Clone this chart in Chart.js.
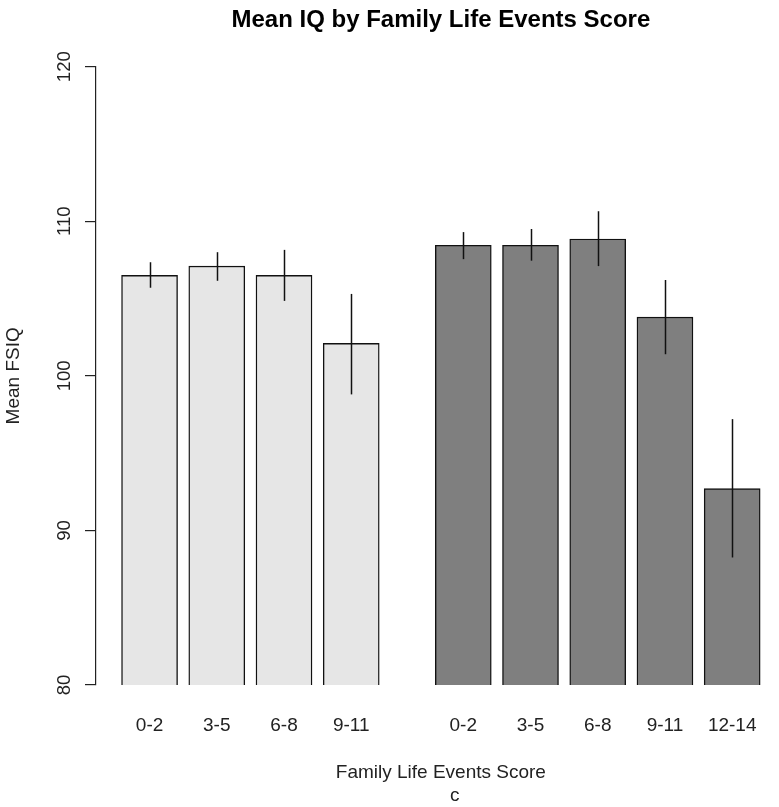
<!DOCTYPE html>
<html><head><meta charset="utf-8">
<script src="https://cdn.jsdelivr.net/npm/chart.js@4.4.1/dist/chart.umd.min.js"></script>
<style>html,body{margin:0;padding:0;background:#fff;overflow:hidden;width:779px;height:807px}canvas{display:block}</style>
</head><body>
<canvas id="c" width="786" height="807"></canvas>
<script>
const chartTitle = 'Mean IQ by Family Life Events Score';
const xTitle = 'Family Life Events Score';
const yTitle = 'Mean FSIQ';
const subTitle = 'c';
const lightCategories = ['0-2', '3-5', '6-8', '9-11'];
const darkCategories = ['0-2', '3-5', '6-8', '9-11', '12-14'];
const lightMeans = [106.5, 107.1, 106.5, 102.1];
const lightLower = [105.7, 106.15, 104.85, 98.8];
const lightUpper = [107.35, 108.0, 108.15, 105.3];
const darkMeans = [108.45, 108.45, 108.85, 103.8, 92.7];
const darkLower = [107.55, 107.45, 107.1, 101.4, 88.25];
const darkUpper = [109.3, 109.5, 110.65, 106.2, 97.2];
const yTicks = [80, 90, 100, 110, 120];

// barplot-like layout in axis units: bar width 1, space 0.2 between bars, 1 between groups
const BAR_W = 1, BAR_SPACE = 0.2, GROUP_SPACE = 1;
const groups = [lightMeans, darkMeans];
const centers = [];
let pos = 0;
groups.forEach((g, gi) => {
  const c = [];
  g.forEach((_, i) => {
    pos += (gi > 0 && i === 0) ? GROUP_SPACE : BAR_SPACE;
    c.push(pos + BAR_W / 2);
    pos += BAR_W;
  });
  centers.push(c);
});
const xLo = BAR_SPACE, xHi = pos, ext = 0.04 * (xHi - xLo);
const xMin = xLo - ext, xMax = xHi + ext;
const allCenters = centers[0].concat(centers[1]);
const allLabels = lightCategories.concat(darkCategories);

const FONT = "'Liberation Sans', Arial, sans-serif";
Chart.defaults.font.family = FONT;

const errorBars = {
  id: 'errorBars',
  afterDatasetsDraw(chart) {
    const ctx = chart.ctx, ys = chart.scales.y;
    ctx.save();
    ctx.strokeStyle = '#111';
    ctx.lineWidth = 1.5;
    chart.data.datasets.forEach((ds, di) => {
      const meta = chart.getDatasetMeta(di);
      meta.data.forEach((el, i) => {
        const x = Math.round(el.x) + 0.5;
        ctx.beginPath();
        ctx.moveTo(x, ys.getPixelForValue(ds.errLow[i]));
        ctx.lineTo(x, ys.getPixelForValue(ds.errHigh[i]));
        ctx.stroke();
      });
    });
    ctx.restore();
  }
};

const extraText = {
  id: 'extraText',
  afterDraw(chart) {
    const ctx = chart.ctx, ys = chart.scales.y, xs = chart.scales.x;
    ctx.save();
    ctx.fillStyle = '#222';
    ctx.font = '18.5px ' + FONT;
    ctx.textAlign = 'center';
    ctx.textBaseline = 'alphabetic';
    ys.ticks.forEach(t => {
      const py = ys.getPixelForValue(t.value);
      ctx.save();
      ctx.translate(ys.right - 26, py);
      ctx.rotate(-Math.PI / 2);
      ctx.fillText(String(t.value), 0, 0);
      ctx.restore();
    });
    // sub-caption under the x-axis title
    ctx.font = '19px ' + FONT;
    ctx.textBaseline = 'middle';
    ctx.fillText(subTitle, (xs.left + xs.right) / 2 + 14, chart.height - 11);
    ctx.restore();
  }
};

new Chart(document.getElementById('c'), {
  type: 'bar',
  data: {
    datasets: [
      {
        data: lightMeans.map((v, i) => ({ x: centers[0][i], y: v })),
        errLow: lightLower, errHigh: lightUpper,
        backgroundColor: '#e6e6e6', borderColor: '#111', borderWidth: 1.4,
        borderSkipped: false, barThickness: 56, grouped: false
      },
      {
        data: darkMeans.map((v, i) => ({ x: centers[1][i], y: v })),
        errLow: darkLower, errHigh: darkUpper,
        backgroundColor: '#7f7f7f', borderColor: '#111', borderWidth: 1.4,
        borderSkipped: false, barThickness: 56, grouped: false
      }
    ]
  },
  options: {
    responsive: false,
    animation: false,
    devicePixelRatio: 1,
    layout: { padding: { left: 0, right: 0, top: 0, bottom: 22.8 } },
    plugins: {
      legend: { display: false },
      tooltip: { enabled: false },
      title: {
        display: true, text: chartTitle, fullSize: false, color: '#000',
        font: { size: 24, weight: 'bold', lineHeight: 1.2 },
        padding: { top: 5.6, bottom: 32.3 }
      }
    },
    scales: {
      x: {
        type: 'linear', min: xMin, max: xMax, offset: false,
        afterBuildTicks: s => { s.ticks = allCenters.map(v => ({ value: v })); },
        afterFit: s => { s.height = 99.2; },
        ticks: {
          callback: (v, i) => allLabels[i], autoSkip: false, maxRotation: 0, minRotation: 0,
          padding: 29.5, color: '#222', font: { size: 19 }
        },
        grid: { display: false, drawTicks: false },
        border: { display: false },
        title: { display: true, text: xTitle, color: '#222', font: { size: 19, lineHeight: 1.2 }, padding: { top: 0, bottom: 0 } }
      },
      y: {
        min: 80, max: 120,
        afterBuildTicks: s => { s.ticks = yTicks.map(v => ({ value: v })); },
        afterFit: s => { s.width = 96; },
        ticks: { display: false },
        grid: { drawOnChartArea: false, drawTicks: true, tickLength: 11, color: '#222', lineWidth: 1.2 },
        border: { display: true, color: '#222', width: 1.2 },
        title: { display: true, text: yTitle, color: '#222', font: { size: 19, lineHeight: 1.2 }, padding: { top: 2, bottom: 0 } }
      }
    }
  },
  plugins: [errorBars, extraText]
});
</script>
</body></html>
